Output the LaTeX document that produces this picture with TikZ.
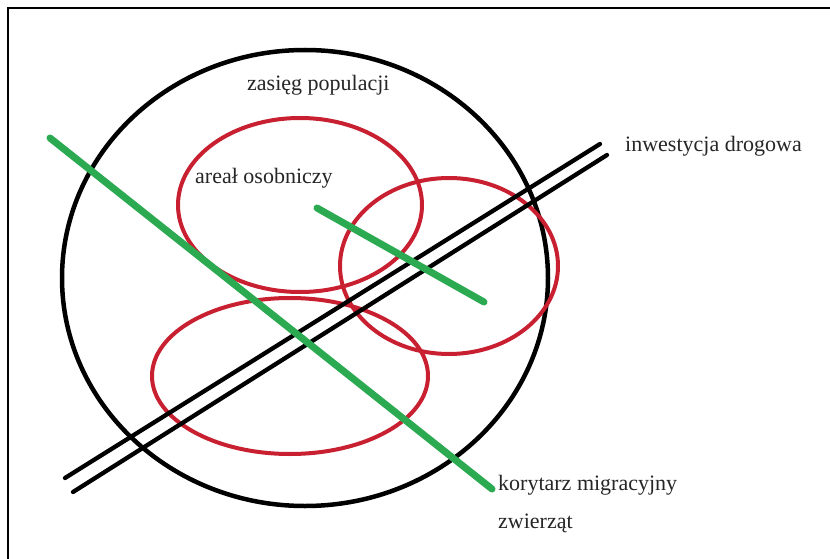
\documentclass[tikz,border=0pt]{standalone}
\usepackage{fontspec}
\setmainfont{Liberation Serif}
\definecolor{areared}{RGB}{200,32,48}
\definecolor{corgreen}{RGB}{44,170,82}
\begin{document}
\begin{tikzpicture}[x=1pt,y=-1pt,
  lbl/.style={anchor=west,inner sep=0pt,font=\fontsize{22}{24}\selectfont,text=black!85},
  rangeline/.style={draw=black,line width=4.5pt},
  homerange/.style={draw=areared,line width=4pt},
  road/.style={draw=black,line width=4.3pt,line cap=round},
  corridor/.style={draw=corgreen,line width=7pt,line cap=round},
  frameline/.style={draw=black,line width=2.5pt}]
\useasboundingbox (0,0) rectangle (830,559);
\fill[white] (0,0) rectangle (830,559);
% frame (left and top only)
\draw[frameline] (8,559) -- (8,8) -- (830,8);
% population range
\draw[rangeline] (305,278) ellipse [x radius=243, y radius=228];
% home ranges
\draw[homerange] (300,205) ellipse [x radius=122, y radius=87];
\draw[homerange] (449,266) ellipse [x radius=109, y radius=88];
\draw[homerange] (290,376) ellipse [x radius=138, y radius=78];
% road
\coordinate (r1a) at (65,478);
\coordinate (r1b) at (600,144);
\coordinate (r2a) at (73,492);
\coordinate (r2b) at (607,155);
\draw[road] (r1a) -- (r1b);
\draw[road] (r2a) -- (r2b);
% corridors
\coordinate (g1a) at (50,138);
\coordinate (g1b) at (492,489);
\coordinate (g2a) at (317,208);
\coordinate (g2b) at (484,302);
\draw[corridor] (g1a) -- (g1b);
\draw[corridor] (g2a) -- (g2b);
% labels
\node[lbl] (zasieg) at (247,85) {zasięg populacji};
\node[lbl] (areal) at (195,178) {areał osobniczy};
\node[lbl] (inwest) at (625,146) {inwestycja drogowa};
\node[lbl] (kor) at (498,485) {korytarz migracyjny};
\node[lbl] (zw) at (498,523) {zwierząt};
\end{tikzpicture}
\end{document}
